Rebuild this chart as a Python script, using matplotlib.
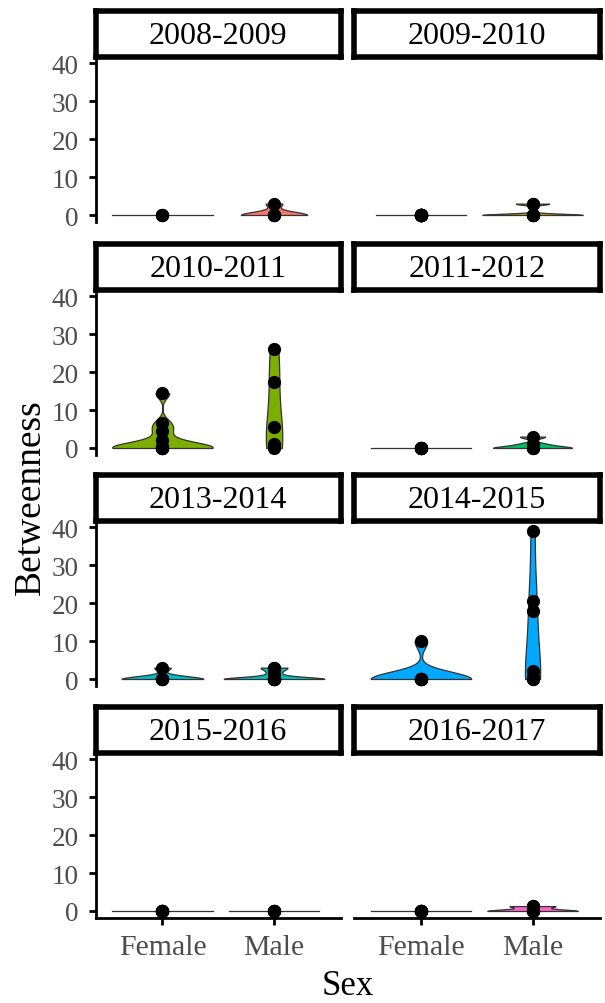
import numpy as np
import matplotlib
matplotlib.use("Agg")
import matplotlib.pyplot as plt

plt.rcParams['font.family'] = ['Liberation Serif', 'DejaVu Serif']

# facet levels and per-year fill colours (ggplot hue palette, 8 levels)
years = ["2008-2009", "2009-2010", "2010-2011", "2011-2012",
         "2013-2014", "2014-2015", "2015-2016", "2016-2017"]
fills = ["#F8766D", "#CD9600", "#7CAE00", "#00BE67",
         "#00BFC4", "#00A9FF", "#C77CFF", "#FF61CC"]
sexes = ["Female", "Male"]
y_ticks = [0, 10, 20, 30, 40]

# betweenness values per individual, one list per year
female = [
    [0, 0, 0],
    [0] * 20,
    [0, 0, 0, 0, 0, 0, 0.5, 2, 4.5, 6.5, 14.5],
    [0] * 7,
    [0, 0, 0, 0, 0, 3],
    [0, 0, 0, 0, 0, 0, 0, 0, 10],
    [0] * 10,
    [0] * 10,
]
male = [
    [0, 0, 0, 0, 3],
    [0, 0, 0, 0, 0, 0, 3, 3],
    [0, 1, 5.5, 17.5, 26],
    [0, 0, 0, 1, 3],
    [0, 0, 0, 0, 0, 0, 0, 0, 1, 2, 3, 3],
    [0, 0, 0.5, 2, 18, 20.5, 39],
    [0] * 6,
    [0, 0, 0, 0, 1.3, 1.3],
]


def bw_nrd0(x):
    x = np.asarray(x, float)
    hi = np.std(x, ddof=1)
    q25, q75 = np.percentile(x, [25, 75])
    lo = min(hi, (q75 - q25) / 1.34)
    if lo == 0:
        lo = hi or abs(x[0]) or 1.0
    return 0.9 * lo * len(x) ** -0.2


def violin_density(x):
    x = np.asarray(x, float)
    bw = bw_nrd0(x)
    grid = np.linspace(x.min(), x.max(), 512)
    d = np.exp(-0.5 * ((grid[:, None] - x[None, :]) / bw) ** 2).sum(1)
    d = d / (len(x) * bw * np.sqrt(2 * np.pi))
    return grid, d


W, H = 605, 1004
fig = plt.figure(figsize=(W / 100, H / 100), dpi=100)

zero_px = [216, 449, 680, 912]
col_px = [(95.5, 341), (354, 599.5)]
ylo, yhi = -1.95, 40.95
ppu = 3.79

for i, yr in enumerate(years):
    r, c = divmod(i, 2)
    x0, x1 = col_px[c]
    top = zero_px[r] - yhi * ppu
    bot = zero_px[r] - ylo * ppu
    ax = fig.add_axes([x0 / W, 1 - bot / H, (x1 - x0) / W, (bot - top) / H])
    ax.set_xlim(0.4, 2.6)
    ax.set_ylim(ylo, yhi)

    groups = [female[i], male[i]]
    dens = [violin_density(g) for g in groups]
    dmax = max(d.max() for _, d in dens)
    for k, (grid, d) in enumerate(dens):
        xc = k + 1
        half = 0.45 * d / dmax
        if grid[0] == grid[-1]:
            ax.plot([xc - half[0], xc + half[0]], [grid[0], grid[0]],
                    color="#333333", lw=0.9, zorder=2)
        else:
            ax.fill_betweenx(grid, xc - half, xc + half, facecolor=fills[i],
                             edgecolor="#333333", lw=0.9, zorder=2)
        vals = groups[k]
        ax.plot(np.full(len(vals), xc), vals, 'o', color='black', ms=8.5,
                zorder=3)

    for s in ['top', 'right']:
        ax.spines[s].set_visible(False)
    ax.spines['left'].set_visible(c == 0)
    ax.spines['bottom'].set_visible(r == 3)
    ax.spines['left'].set_linewidth(2)
    ax.spines['bottom'].set_linewidth(2)

    ax.set_yticks(y_ticks)
    ax.set_xticks([1, 2])
    ax.set_xticklabels(sexes)
    ax.tick_params(axis='y', length=5 if c == 0 else 0, width=2,
                   labelleft=(c == 0), labelsize=19.5, labelcolor='#4D4D4D',
                   pad=7)
    ax.tick_params(axis='x', length=5 if r == 3 else 0, width=2,
                   labelbottom=(r == 3), labelsize=21.5, labelcolor='#4D4D4D',
                   pad=6)
    ax.patch.set_alpha(0)

    # facet strip
    sb = top - 2.3
    st = sb - 46
    sax = fig.add_axes([x0 / W, 1 - sb / H, (x1 - x0) / W, (sb - st) / H])
    sax.set_xticks([])
    sax.set_yticks([])
    for s in sax.spines.values():
        s.set_linewidth(4)
        s.set_color('black')
    sax.text(0.5, 0.47, yr, ha='center', va='center', fontsize=23,
             transform=sax.transAxes)

fig.text(347.5 / W, 1 - 995 / H, "Sex", ha='center', va='baseline',
         fontsize=25)
fig.text(40 / W, 1 - 497 / H, "Betweenness", ha='center', va='baseline',
         rotation=90, rotation_mode='anchor', fontsize=27)

fig.savefig("out.png", dpi=100)
